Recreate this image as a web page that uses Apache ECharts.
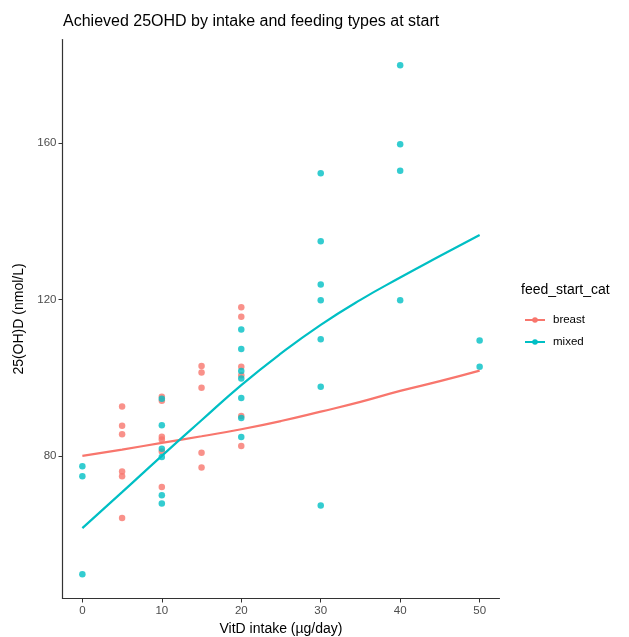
<!DOCTYPE html>
<html><head><meta charset="utf-8">
<script src="https://cdn.jsdelivr.net/npm/echarts@6/dist/echarts.min.js"></script>
<style>html,body{margin:0;padding:0;background:#fff}#c{width:629px;height:637px}</style>
</head><body><div id="c"></div>
<script>
// Scatter data
const breastX = [5,5,5,5,5,5, 10,10,10,10,10,10, 15,15,15,15,15, 20,20,20,20,20,20];
const breastY = [92.6,87.7,85.5,76.0,74.8,64.1, 95.1,94.1,84.9,84.2,81.1,72.0, 103.0,101.3,97.4,80.8,77.0, 118.0,115.6,102.8,100.6,90.2,82.5];
const mixedX = [0,0,0, 10,10,10,10,10,10, 20,20,20,20,20,20,20, 30,30,30,30,30,30,30, 40,40,40,40, 50,50];
const mixedY = [77.3,74.8,49.7, 94.6,87.8,81.8,79.7,69.9,67.8, 112.3,107.3,101.7,99.8,94.8,89.7,84.8, 152.3,134.9,123.8,119.8,109.8,97.7,67.3, 179.9,159.7,152.9,119.8, 109.5,102.8];
// Smoothed curves
const curveX = [0,5,10,15,20,25,30,35,40,45,50];
const breastCurve = [80.0,81.6,83.3,85.0,86.8,88.9,91.3,93.8,96.6,99.1,101.8];
const mixedCurve = [61.5,70.7,80.0,89.1,98.1,106.2,113.5,119.9,125.6,131.1,136.5];
// Ticks
const xTicks = [0,10,20,30,40,50];
const yTicks = [80,120,160];

const RED = '#F8766D', TEAL = '#00BFC4';
const zip = (a,b)=>a.map((v,i)=>[v,b[i]]);
const font = 'Liberation Sans, Arial, sans-serif';

const chart = echarts.init(document.getElementById('c'), null, {renderer:'canvas'});
chart.setOption({
  animation:false,
  backgroundColor:'#fff',
  title:{text:'Achieved 25OHD by intake and feeding types at start', left:58, top:9,
    textStyle:{fontFamily:font, fontSize:16, fontWeight:'normal', color:'#000'}},
  grid:{left:62.5, right:129.5, top:39.5, bottom:38.5, containLabel:false, outerBoundsMode:'none'},
  xAxis:{type:'value', min:-2.5, max:52.5,
    name:'VitD intake (µg/day)', nameLocation:'middle', nameGap:24,
    nameTextStyle:{fontFamily:font, fontSize:14, color:'#000'},
    axisLine:{show:true, onZero:false, lineStyle:{color:'#333', width:1.2}},
    axisTick:{show:true, length:4, lineStyle:{color:'#333'}, customValues:xTicks},
    axisLabel:{fontFamily:font, fontSize:11.5, color:'#4d4d4d', margin:6, customValues:xTicks},
    splitLine:{show:false}},
  yAxis:{type:'value', min:43.5, max:186.5,
    name:'25(OH)D (nmol/L)', nameLocation:'middle', nameGap:34,
    nameTextStyle:{fontFamily:font, fontSize:14, color:'#000'},
    axisLine:{show:true, onZero:false, lineStyle:{color:'#333', width:1.2}},
    axisTick:{show:true, length:4, lineStyle:{color:'#333'}, customValues:yTicks},
    axisLabel:{fontFamily:font, fontSize:11.5, color:'#4d4d4d', margin:6, customValues:yTicks},
    splitLine:{show:false}},
  legend:{show:true, orient:'vertical', left:519, top:309, itemWidth:20, itemHeight:7, itemGap:10,
    data:['breast','mixed'],
    textStyle:{fontFamily:font, fontSize:11.5, color:'#000', padding:[0,0,0,3]}},
  graphic:[{type:'text', left:521, top:283,
    style:{text:'feed_start_cat', fontFamily:font, fontSize:14, fill:'#000'}}],
  series:[
    {name:'breast', type:'line', data:zip(curveX,breastCurve), smooth:true, symbol:'circle', symbolSize:6, showSymbol:false,
     lineStyle:{color:RED, width:2.2}, itemStyle:{color:RED}, z:3},
    {name:'mixed', type:'line', data:zip(curveX,mixedCurve), smooth:true, symbol:'circle', symbolSize:6, showSymbol:false,
     lineStyle:{color:TEAL, width:2.2}, itemStyle:{color:TEAL}, z:3},
    {name:'breast', type:'scatter', data:zip(breastX,breastY), symbolSize:6.5, itemStyle:{color:RED}, z:2},
    {name:'mixed', type:'scatter', data:zip(mixedX,mixedY), symbolSize:6.5, itemStyle:{color:TEAL}, z:2}
  ]
});
</script></body></html>
